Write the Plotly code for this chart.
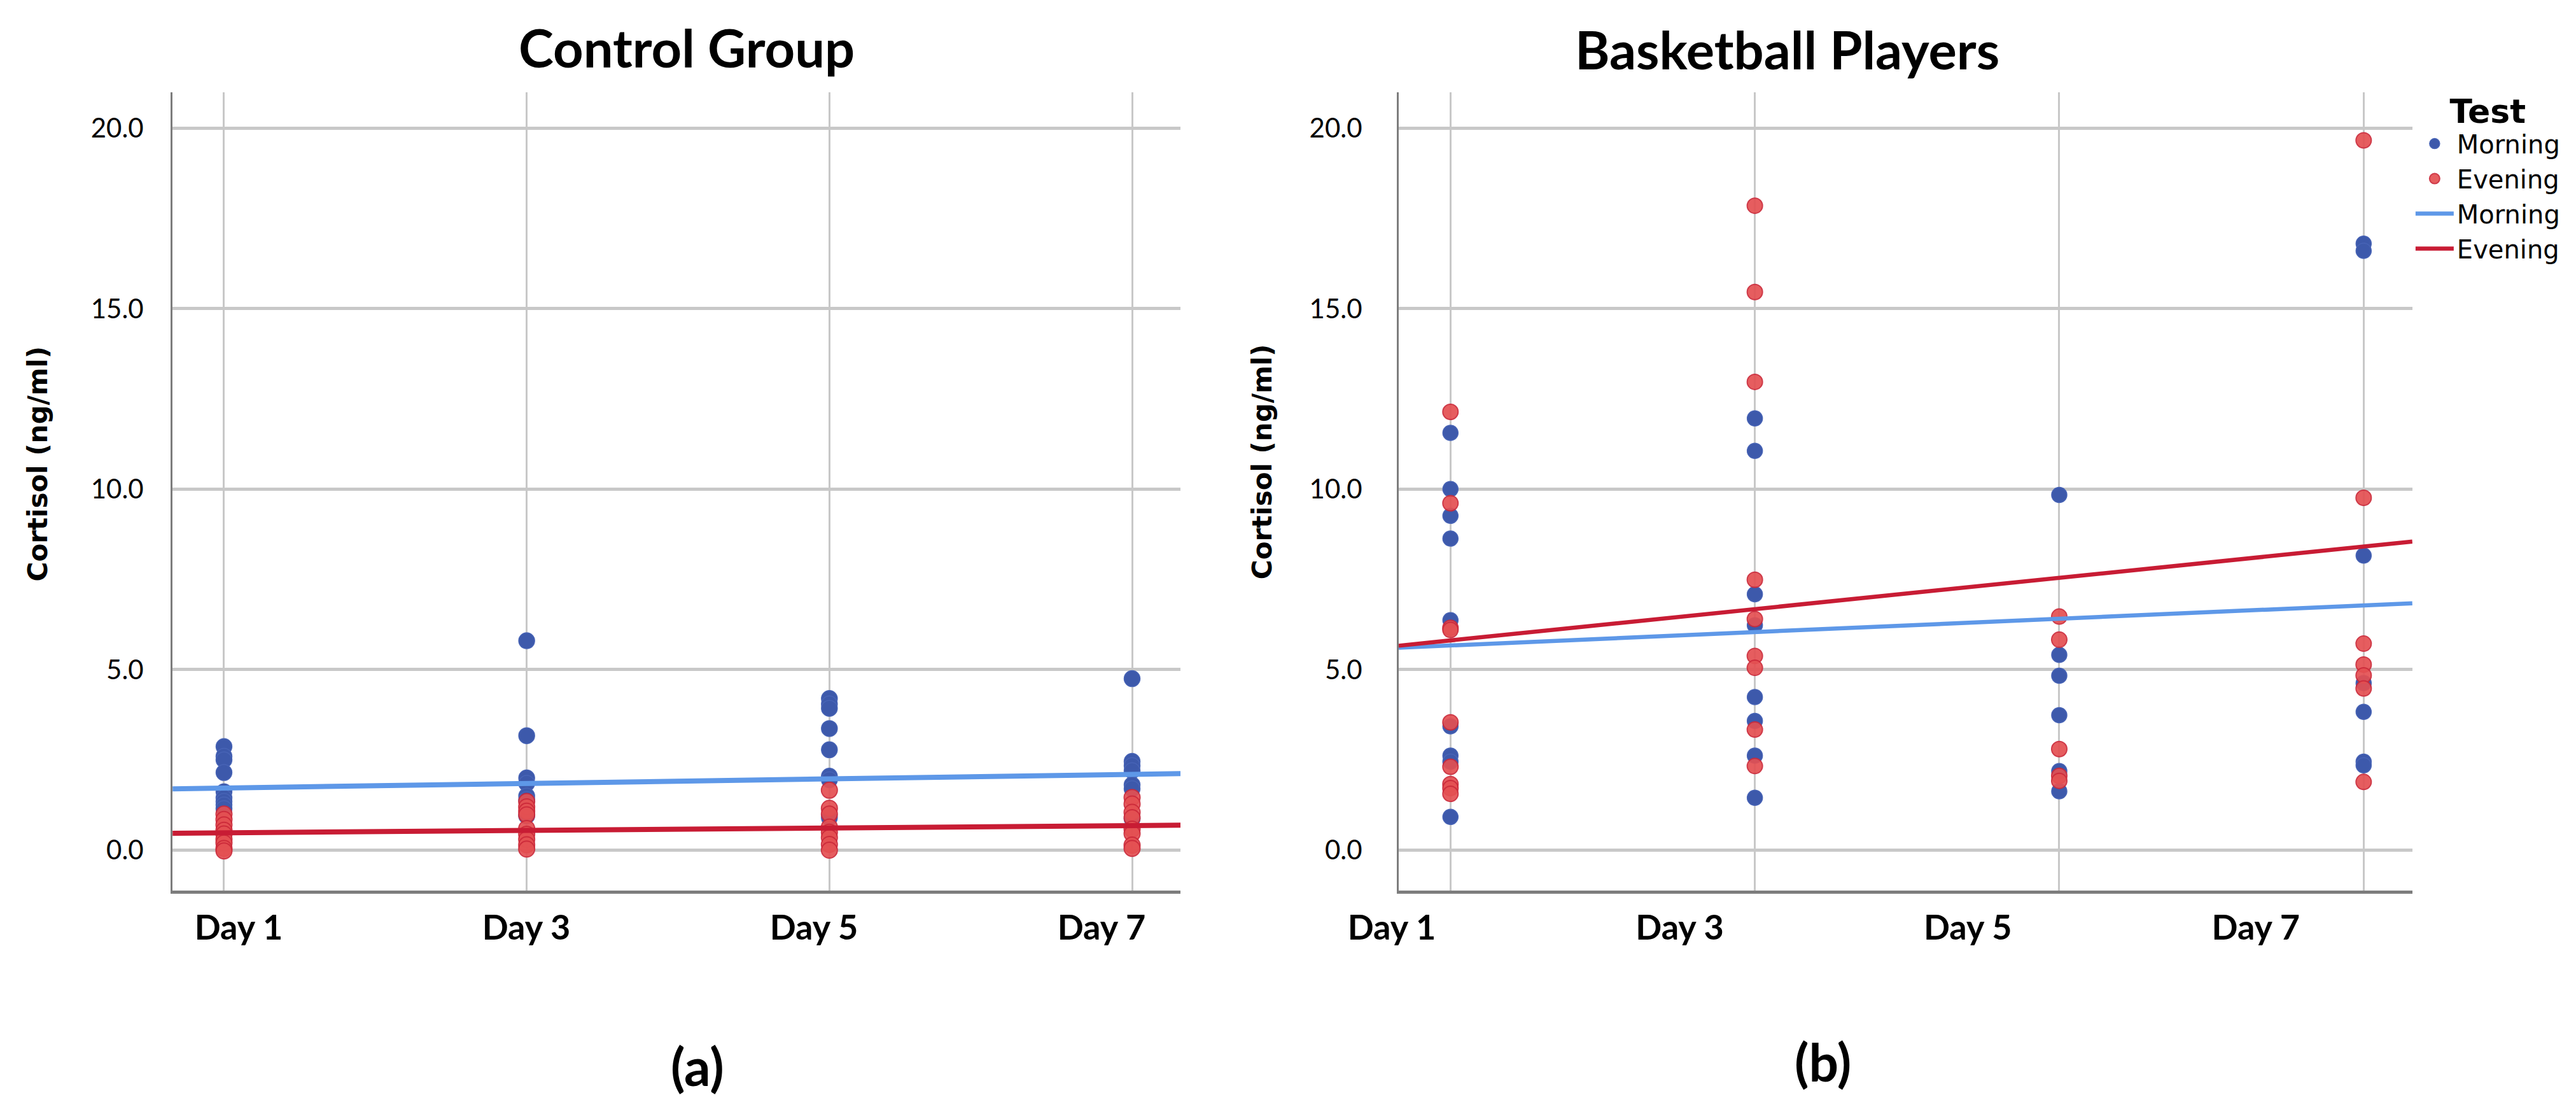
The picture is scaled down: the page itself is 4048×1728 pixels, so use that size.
import plotly.graph_objects as go

# ---------------- data ----------------
days = [1, 3, 5, 7]
day_labels = ["Day 1", "Day 3", "Day 5", "Day 7"]
y_tick_vals = [0, 5, 10, 15, 20]
y_tick_text = ["0.0", "5.0", "10.0", "15.0", "20.0"]

# Control group, cortisol (ng/ml) per day
ctrl_morning = {
    1: [2.87, 2.60, 2.50, 2.15, 1.62, 1.45, 1.35, 1.25, 1.15],
    3: [5.80, 3.17, 2.00, 1.85, 1.50, 1.40, 0.95],
    5: [4.20, 4.05, 3.93, 3.37, 2.78, 2.05, 1.95, 0.90],
    7: [4.75, 2.46, 2.34, 2.20, 1.81, 1.70, 0.87],
}
ctrl_evening = {
    1: [1.00, 0.85, 0.70, 0.55, 0.45, 0.30, 0.20, 0.05, -0.02],
    3: [1.35, 1.20, 1.08, 0.98, 0.60, 0.44, 0.30, 0.15, 0.03],
    5: [1.66, 1.16, 1.00, 0.64, 0.50, 0.35, 0.16, 0.00],
    7: [1.46, 1.28, 1.05, 0.90, 0.58, 0.46, 0.14, 0.05],
}

# Basketball players, cortisol (ng/ml) per day
bb_morning = {
    1: [11.56, 10.00, 9.26, 8.63, 6.37, 3.43, 2.62, 2.45, 0.92],
    3: [11.96, 11.06, 7.09, 6.23, 4.24, 3.58, 2.62, 1.45],
    5: [9.84, 5.41, 4.83, 3.74, 2.19, 1.63],
    7: [16.80, 16.60, 8.16, 4.63, 3.83, 2.45, 2.35],
}
bb_evening = {
    1: [12.14, 9.61, 6.16, 6.10, 3.54, 2.31, 1.83, 1.72, 1.56],
    3: [17.85, 15.46, 12.97, 7.49, 6.40, 5.38, 5.05, 3.34, 2.33],
    5: [6.47, 5.83, 2.80, 2.06, 1.92],
    7: [19.66, 9.76, 5.72, 5.14, 4.84, 4.48, 1.89],
}

# Fit lines: value read at Day 1 and at Day 7
ctrl_fit_morning = [1.72, 2.10]
ctrl_fit_evening = [0.48, 0.68]
bb_fit_morning = [5.67, 6.78]
bb_fit_evening = [5.81, 8.41]

# ---------------- styling ----------------
X_RANGE = [0.66, 7.32]
Y_RANGE = [-1.12, 21.0]
BLUE_DOT = "rgb(61,89,171)"
BLUE_DOT_EDGE = "rgb(72,100,182)"
RED_DOT = "rgb(228,80,82)"
RED_DOT_EDGE = "rgb(204,42,58)"
BLUE_LINE = "rgb(94,152,232)"
RED_LINE = "rgb(200,28,52)"
GRID = "rgb(200,200,200)"
AXIS = "rgb(125,125,125)"


def flatten(series):
    xs, ys = [], []
    for d in days:
        for v in series[d]:
            xs.append(d)
            ys.append(v)
    return xs, ys


def fit_line(vals):
    slope = (vals[1] - vals[0]) / (days[-1] - days[0])
    return [vals[0] + slope * (x - days[0]) for x in X_RANGE]


fig = go.Figure()

panels = [
    ("x", "y", ctrl_morning, ctrl_evening, ctrl_fit_morning, ctrl_fit_evening, False, 8, 25),
    ("x2", "y2", bb_morning, bb_evening, bb_fit_morning, bb_fit_evening, True, 6.5, 24),
]

for xa, ya, morn, even, fm, fe, show, lw, ms in panels:
    mx, my = flatten(morn)
    ex, ey = flatten(even)
    fig.add_trace(go.Scatter(
        x=mx, y=my, mode="markers", name="Morning", showlegend=show,
        marker=dict(size=ms, color=BLUE_DOT, line=dict(color=BLUE_DOT_EDGE, width=1.5)),
        xaxis=xa, yaxis=ya))
    fig.add_trace(go.Scatter(
        x=ex, y=ey, mode="markers", name="Evening", showlegend=show,
        marker=dict(size=ms, color=RED_DOT, opacity=0.92,
                    line=dict(color=RED_DOT_EDGE, width=2)),
        xaxis=xa, yaxis=ya))
    fig.add_trace(go.Scatter(
        x=X_RANGE, y=fit_line(fm), mode="lines", name="Morning", showlegend=show,
        line=dict(color=BLUE_LINE, width=lw), xaxis=xa, yaxis=ya))
    fig.add_trace(go.Scatter(
        x=X_RANGE, y=fit_line(fe), mode="lines", name="Evening", showlegend=show,
        line=dict(color=RED_LINE, width=lw), xaxis=xa, yaxis=ya))

# empty carrier traces so the day-label axes get drawn
for xa, ya in [("x3", "y3"), ("x4", "y4")]:
    fig.add_trace(go.Scatter(x=[None], y=[None], mode="markers", showlegend=False,
                             hoverinfo="skip", xaxis=xa, yaxis=ya))

Y_DOMAIN = [0.195, 0.921]
data_x = dict(range=X_RANGE, tickvals=days, showticklabels=False, ticks="",
              showgrid=True, gridcolor=GRID, gridwidth=3, zeroline=False,
              showline=True, linecolor=AXIS, linewidth=5, fixedrange=True)
data_y = dict(range=Y_RANGE, tickvals=y_tick_vals, ticktext=y_tick_text, ticks="",
              showgrid=True, gridcolor=GRID, gridwidth=5, zeroline=False,
              showline=True, linecolor=AXIS, linewidth=3, domain=Y_DOMAIN,
              tickfont=dict(family="Lato", size=42, color="black"))
label_x = dict(showgrid=False, zeroline=False, showline=False, ticks="",
               tickvals=days, ticktext=day_labels, ticklabelstandoff=22,
               tickfont=dict(family="Lato", size=54, color="black", weight="bold"))
dummy_y = dict(range=Y_RANGE, domain=Y_DOMAIN, showgrid=False, zeroline=False,
               showline=False, showticklabels=False, ticks="")

fig.update_layout(
    width=4048, height=1728, autosize=False,
    margin=dict(l=0, r=0, t=0, b=0),
    paper_bgcolor="white", plot_bgcolor="rgba(0,0,0,0)",
    xaxis=dict(**data_x, domain=[0.0650, 0.4563], anchor="y"),
    yaxis=dict(**data_y, anchor="x", ticklabelstandoff=34),
    xaxis2=dict(**data_x, domain=[0.5410, 0.9345], anchor="y2"),
    yaxis2=dict(**data_y, anchor="x2", ticklabelstandoff=46),
    xaxis3=dict(**label_x, domain=[0.0, 0.5], range=[-0.624, 8.332], anchor="y3"),
    yaxis3=dict(**dummy_y, anchor="x3"),
    xaxis4=dict(**label_x, domain=[0.5, 1.0], range=[0.315, 9.259], anchor="y4"),
    yaxis4=dict(**dummy_y, anchor="x4"),
    legend=dict(
        x=0.9345, xanchor="left", y=0.932, yanchor="top",
        font=dict(family="DejaVu Sans", size=40, color="black"),
        title=dict(text="<b>Test</b>", side="top center",
                   font=dict(family="DejaVu Sans", size=52, color="black")),
        itemwidth=60, bgcolor="rgba(0,0,0,0)", tracegroupgap=0,
    ),
    annotations=[
        dict(text="<b>Control Group</b>", x=0.2646, y=0.962, xref="paper", yref="paper",
             xanchor="center", yanchor="middle", showarrow=False,
             font=dict(family="Lato", size=83, color="black")),
        dict(text="<b>Basketball Players</b>", x=0.6917, y=0.960, xref="paper", yref="paper",
             xanchor="center", yanchor="middle", showarrow=False,
             font=dict(family="Lato", size=83, color="black")),
        dict(text="<b>Cortisol (ng/ml)</b>", x=0.0128, y=0.583, xref="paper", yref="paper",
             xanchor="center", yanchor="middle", showarrow=False, textangle=-90,
             font=dict(family="DejaVu Sans", size=42, color="black")),
        dict(text="<b>Cortisol (ng/ml)</b>", x=0.4879, y=0.585, xref="paper", yref="paper",
             xanchor="center", yanchor="middle", showarrow=False, textangle=-90,
             font=dict(family="DejaVu Sans", size=42, color="black")),
        dict(text="<b>(a)</b>", x=0.2688, y=0.036, xref="paper", yref="paper",
             xanchor="center", yanchor="middle", showarrow=False,
             font=dict(family="Lato", size=82, color="black")),
        dict(text="<b>(b)</b>", x=0.7056, y=0.040, xref="paper", yref="paper",
             xanchor="center", yanchor="middle", showarrow=False,
             font=dict(family="Lato", size=82, color="black")),
    ],
)

fig.write_html("out.html")
